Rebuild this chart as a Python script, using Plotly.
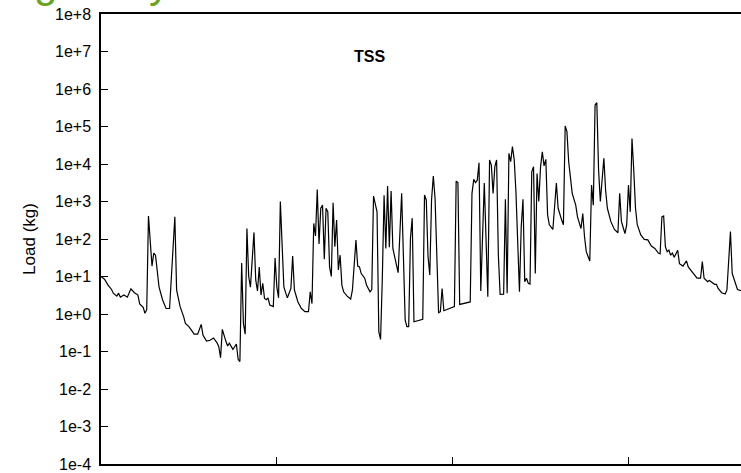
import plotly.graph_objects as go

# Day index (x) and TSS load in kg (y)
days = [0, 2, 4, 6, 7, 9, 10, 11, 13, 15, 17, 19, 21, 22, 24, 25, 26, 27, 29, 30,
        31, 33, 35, 37, 39, 42, 43, 45, 47, 48, 50, 53, 55, 57, 58, 60, 62, 64, 66, 67,
        68, 69, 71, 72, 73, 75, 76, 77, 78, 79, 80, 81, 82, 83, 84, 85, 87, 88, 89, 90,
        91, 92, 93, 94, 95, 96, 98, 99, 100, 101, 102, 104, 105, 106, 108, 109, 110, 112, 114, 116,
        118, 119, 120, 121, 122, 123, 124, 125, 126, 127, 128, 129, 130, 131, 132, 133, 134, 135, 136, 137,
        138, 140, 142, 143, 145, 146, 147, 148, 150, 151, 153, 154, 155, 157, 158, 159, 160, 161, 162, 163,
        164, 165, 166, 168, 169, 171, 172, 173, 174, 175, 176, 177, 178, 183, 184, 185, 186, 187, 188, 189,
        190, 191, 192, 193, 194, 195, 201, 202, 203, 204, 210, 211, 212, 213, 214, 215, 216, 218, 220, 221,
        222, 223, 224, 225, 226, 227, 229, 230, 231, 232, 233, 234, 235, 236, 238, 239, 240, 241, 242, 243,
        244, 245, 246, 247, 248, 249, 250, 251, 252, 253, 254, 255, 257, 259, 260, 262, 263, 264, 265, 266,
        268, 270, 271, 273, 274, 275, 276, 278, 279, 280, 281, 282, 283, 284, 286, 287, 288, 290, 292, 294,
        295, 296, 298, 299, 300, 301, 302, 303, 304, 305, 307, 309, 311, 313, 315, 317, 318, 319, 320, 321,
        322, 323, 324, 325, 326, 328, 329, 331, 333, 334, 336, 338, 339, 341, 342, 343, 345, 346, 348, 349,
        350, 351, 353, 355, 356, 358, 359, 361, 362, 364]

load_kg = [10, 8.5, 5.9, 4.5, 3.6, 3.0, 3.6, 2.8, 3.2, 2.8, 4.7, 3.7, 3.2, 1.85, 1.5, 1.04, 1.3, 410, 19, 42,
           37, 5.3, 2.4, 1.4, 1.4, 390, 4.4, 1.57, 0.85, 0.56, 0.46, 0.29, 0.29, 0.53, 0.275, 0.19, 0.2, 0.23, 0.17, 0.134,
           0.068, 0.39, 0.19, 0.14, 0.166, 0.114, 0.134, 0.158, 0.062, 0.054, 23, 0.56, 0.29, 190, 10, 5.2, 150, 8.1, 4.1, 18,
           3.2, 6.6, 2.6, 2.4, 2.7, 1.74, 1.57, 31, 5.3, 2.7, 1000, 5.3, 3.7, 2.7, 4.8, 35, 4.4, 2.1, 1.4, 1.15,
           1.15, 3.9, 1.9, 260, 120, 2100, 74, 660, 800, 29, 660, 530, 18, 10, 930, 62, 320, 15, 37, 5.9,
           3.9, 3.0, 2.5, 4.4, 94, 19, 18, 12, 9, 5.9, 3.9, 4.5, 1400, 530, 0.34, 0.21, 9, 1460, 56, 2600,
           60, 1900, 56, 22, 12.6, 1650, 22, 0.69, 0.46, 0.46, 104, 360, 0.62, 0.72, 1490, 1100, 34, 11, 1100, 4800,
           1200, 22, 1.08, 1.15, 4.8, 1.22, 1.57, 3500, 3200, 1.8, 2.1, 1650, 3900, 3200, 3700, 10800, 4.1, 3100, 2.9, 12800,
           9400, 1650, 8500, 12800, 37, 3.35, 3.4, 1140, 3.6, 19300, 11500, 29000, 13300, 1800, 3.9, 210, 1140, 7.3, 9, 6.6,
           6.3, 6200, 8500, 12, 5600, 1000, 8500, 21000, 8900, 13300, 440, 240, 180, 3100, 660, 320, 240, 103000, 73000, 11500,
           1650, 800, 390, 190, 480, 115, 46, 26, 2750, 800, 374000, 430000, 6900, 1000, 14200, 2000, 660, 290, 180, 147,
           1650, 290, 140, 240, 2750, 530, 48000, 6900, 660, 240, 128, 98, 95, 65, 56, 42, 40, 390, 410, 62,
           46, 51, 37, 42, 32.5, 50, 22, 19, 26, 18, 13.4, 10, 9, 9, 25, 9, 7.3, 7.8, 6.8, 6.2,
           6.2, 4.8, 3.7, 3.4, 4.4, 157, 12, 5.9, 4.5, 4.2]

y_tickvals = [1e-4, 1e-3, 1e-2, 1e-1, 1e0, 1e1, 1e2, 1e3, 1e4, 1e5, 1e6, 1e7, 1e8]
y_ticktext = ["1e-4", "1e-3", "1e-2", "1e-1", "1e+0", "1e+1", "1e+2", "1e+3",
              "1e+4", "1e+5", "1e+6", "1e+7", "1e+8"]
x_tickvals = [0, 100, 200, 300]

fig = go.Figure()
fig.add_trace(go.Scatter(x=days, y=load_kg, mode="lines",
                         line=dict(color="black", width=1.2),
                         showlegend=False, hoverinfo="skip"))

fig.update_layout(
    width=741, height=473,
    margin=dict(l=101, r=0, t=14, b=9),
    paper_bgcolor="white", plot_bgcolor="white",
    font=dict(family="Liberation Sans, Arial, sans-serif", size=16, color="black"),
    xaxis=dict(range=[0, 364], tickvals=x_tickvals, showticklabels=False,
               ticks="inside", ticklen=7, tickwidth=1, tickcolor="black",
               showline=True, linecolor="black", linewidth=1.5, mirror=True,
               showgrid=False, zeroline=False),
    yaxis=dict(type="log", range=[-4, 8], tickvals=y_tickvals, ticktext=y_ticktext,
               ticks="inside", ticklen=7, tickwidth=1, tickcolor="black",
               ticklabelstandoff=5,
               showline=True, linecolor="black", linewidth=1.5,
               showgrid=False, zeroline=False,
               title=dict(text="Load (kg)", font=dict(size=17), standoff=15)),
)

fig.add_annotation(text="<b>TSS</b>", x=0.42, y=0.905, xref="paper", yref="paper",
                   xanchor="center", yanchor="middle",
                   showarrow=False, font=dict(size=16, color="black"))

# Bottoms of the cropped green heading above the chart
fig.add_annotation(text="g", x=-0.086, y=1.0125, xref="paper", yref="paper",
                   xanchor="center", yanchor="bottom", showarrow=False,
                   font=dict(size=42, color="#6aa31e"))
fig.add_annotation(text="y", x=0.092, y=1.0125, xref="paper", yref="paper",
                   xanchor="center", yanchor="bottom", showarrow=False,
                   font=dict(size=42, color="#6aa31e"))

fig.write_html("out.html")
